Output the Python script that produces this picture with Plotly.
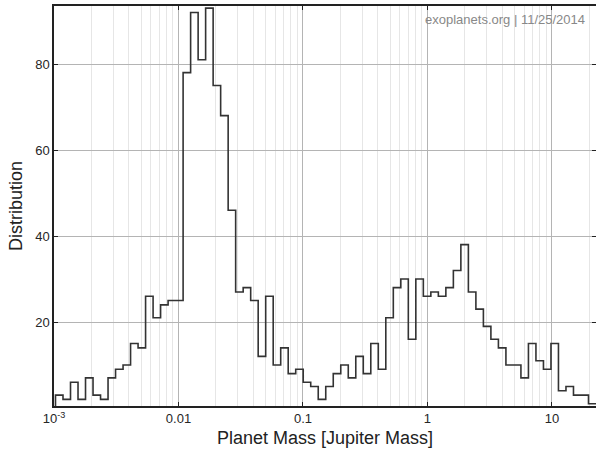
import plotly.graph_objects as go

# Histogram of planet masses (log-spaced bins)
bin_start_log10 = -2.988      # log10 of first bin's left edge
bin_width_log10 = 0.0603      # log10 bin width
counts = [3, 2, 6, 2, 7, 3, 2, 7, 9, 10, 15, 14, 26, 21, 24, 25, 25,
          78, 92, 81, 93, 75, 68, 46,
          27, 28, 25, 12, 26, 10, 14, 8, 9, 6, 5, 2, 5, 8, 10, 7, 12, 8, 15, 9,
          21, 28, 30, 16, 30, 26, 27, 26, 28, 32, 38, 27, 23, 19, 16, 14, 10, 10,
          7, 15, 11, 9, 15, 4, 5, 3, 3, 1]

x_tickvals = [0.001, 0.01, 0.1, 1, 10]
x_ticktext = ["10<sup>-3</sup>", "0.01", "0.1", "1", "10"]
y_tickvals = [20, 40, 60, 80]
annotation_text = "exoplanets.org | 11/25/2014"

edges = [10 ** (bin_start_log10 + bin_width_log10 * k) for k in range(len(counts) + 1)]

xs = [edges[0]] + edges[:len(counts)] + [edges[-1]]
ys = [0] + counts + [counts[-1]]

minor_vals = [m * 10 ** d for d in range(-3, 2) for m in range(2, 10)]

fig = go.Figure()
fig.add_trace(go.Scatter(
    x=xs, y=ys, mode="lines", line=dict(shape="hv", color="#333333", width=1.6),
    hoverinfo="skip", showlegend=False,
))

FONT = "Liberation Sans, Arial, sans-serif"
axis_font = dict(family=FONT, size=13, color="#262626")
fig.update_xaxes(
    type="log", range=[-3, bin_start_log10 + bin_width_log10 * len(counts)],
    tickvals=x_tickvals, ticktext=x_ticktext, tickfont=axis_font,
    showgrid=True, gridcolor="#b4b4b4", gridwidth=1,
    minor=dict(tickvals=minor_vals, showgrid=True, gridcolor="#e6e6e6", gridwidth=1, ticks=""),
    showline=True, linecolor="#222222", linewidth=1.5, mirror="ticks",
    ticks="inside", ticklen=4, tickcolor="#222222",
    zeroline=False, automargin=False,
    title=dict(text="Planet Mass [Jupiter Mass]", font=dict(family=FONT, size=18, color="#222222"), standoff=6),
)
fig.update_yaxes(
    range=[0.47, 93.5], tickvals=y_tickvals, tickfont=axis_font,
    showgrid=True, gridcolor="#b4b4b4", gridwidth=1,
    showline=True, linecolor="#222222", linewidth=1.5, mirror="ticks",
    ticks="inside", ticklen=4, tickcolor="#222222",
    zeroline=False, automargin=False,
    title=dict(text="Distribution", font=dict(family=FONT, size=18, color="#222222"), standoff=8),
)
fig.add_annotation(
    text=annotation_text, xref="paper", yref="paper", x=0.984, y=0.99,
    xanchor="right", yanchor="top", showarrow=False,
    font=dict(family=FONT, size=13, color="#888888"),
)
fig.update_layout(
    width=596, height=454,
    margin=dict(l=54, r=0, t=6, b=48, autoexpand=False),
    plot_bgcolor="white", paper_bgcolor="white",
)
fig.write_html("out.html", config={"displayModeBar": False},
               post_script="document.body.style.margin='0';document.body.style.overflow='hidden';")
